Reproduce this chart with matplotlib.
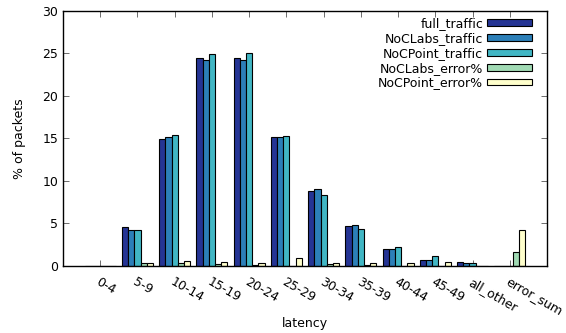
import numpy as np
import matplotlib.pyplot as plt

# latency bins
categories = ['0-4', '5-9', '10-14', '15-19', '20-24', '25-29', '30-34',
              '35-39', '40-44', '45-49', 'all_other', 'error_sum']

full_traffic = [0, 4.6, 14.9, 24.5, 24.5, 15.2, 8.8, 4.7, 1.95, 0.75, 0.5, 0]
noclabs_traffic = [0, 4.2, 15.2, 24.2, 24.2, 15.2, 9.0, 4.8, 2.0, 0.75, 0.4, 0]
nocpoint_traffic = [0, 4.2, 15.4, 24.9, 25.0, 15.3, 8.3, 4.3, 2.25, 1.2, 0.3, 0]
noclabs_error = [0, 0.35, 0.35, 0.24, 0.1, 0.03, 0.24, 0.1, 0.05, 0.03, 0.02, 1.7]
nocpoint_error = [0, 0.35, 0.6, 0.47, 0.4, 0.9, 0.4, 0.4, 0.3, 0.5, 0.02, 4.25]

series = [
    ('full_traffic', full_traffic, '#253494'),
    ('NoCLabs_traffic', noclabs_traffic, '#2c7fb8'),
    ('NoCPoint_traffic', nocpoint_traffic, '#41b6c4'),
    ('NoCLabs_error%', noclabs_error, '#a1dab4'),
    ('NoCPoint_error%', nocpoint_error, '#ffffcc'),
]

plt.rcParams['font.family'] = 'DejaVu Sans'
plt.rcParams['font.size'] = 9

fig = plt.figure(figsize=(5.66, 3.33), dpi=100)
ax = fig.add_axes([0.1113, 0.2012, 0.8551, 0.7658])

x = np.arange(len(categories))
w = 1 / 6
for i, (name, vals, color) in enumerate(series):
    ax.bar(x + (i - 2) * w, vals, w, color=color, edgecolor='black',
           linewidth=0.8, label=name, zorder=2)

ax.set_xlim(-1, 12)
ax.set_ylim(0, 30)
ax.set_yticks(range(0, 31, 5))
ax.set_xticks(x)
ax.set_xticklabels(categories, rotation=-30, ha='left', va='top',
                   rotation_mode='anchor')
ax.tick_params(direction='in', length=4.5, width=0.6, top=True, right=True,
               color='#555555', labelsize=9)
ax.tick_params(axis='x', pad=7)
for s in ax.spines.values():
    s.set_linewidth(1.0)

ax.set_xlabel('latency')
ax.xaxis.set_label_coords(0.5, -0.2)
ax.set_ylabel('% of packets', labelpad=12)

# key block anchored by its top-right corner
x1, y1 = ax.transAxes.inverted().transform(fig.transFigure.transform((532 / 566, 1 - 17 / 333)))
ax.legend(loc='upper right', bbox_to_anchor=(x1, y1), frameon=False,
          markerfirst=False, handlelength=3.6, handleheight=0.45,
          labelspacing=0.15, handletextpad=0.3, borderaxespad=0.0,
          borderpad=0.0, fontsize=9)

fig.savefig('out.png', dpi=100)
